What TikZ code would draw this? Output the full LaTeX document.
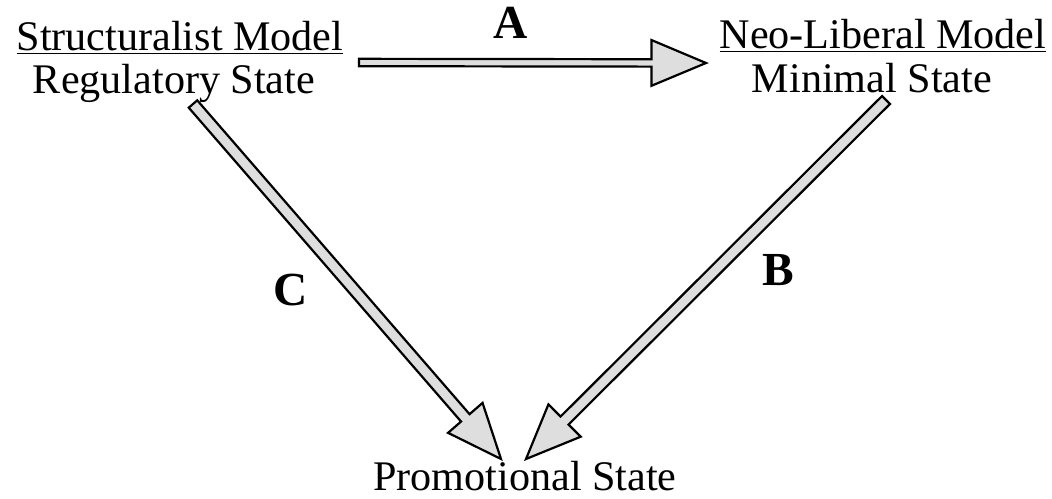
\documentclass[tikz,border=0pt]{standalone}
\usepackage{fontspec}
\setmainfont{Liberation Serif}
\usepackage{tikz}
\usetikzlibrary{calc}

\newcommand{\hollowarrow}[3]{%
  \coordinate (hb) at ($(#3)!31pt!(#2)$);
  \draw[blk] ($(#2)!#1!90:(#3)$) -- ($(hb)!#1!90:(#3)$) -- ($(hb)!13pt!90:(#3)$) -- (#3)
    -- ($(hb)!13pt!-90:(#3)$) -- ($(hb)!#1!-90:(#3)$) -- ($(#2)!#1!-90:(#3)$) -- cycle;}

\begin{document}
\begin{tikzpicture}[
  x=0.02cm, y=-0.02cm,
  font=\fontsize{24}{28}\selectfont,
  txt/.style={inner sep=0pt, anchor=base},
  tag/.style={inner sep=0pt, anchor=base, font=\fontsize{27}{32}\selectfont\bfseries},
  blk/.style={draw, line width=1.25pt, line join=miter, fill=black!13}
]
\useasboundingbox (0,0) rectangle (1052,498);
\node[txt] (sm) at (180,50) {\underline{Structuralist Model}};
\node[txt] (rs) at (174,93) {Regulatory State};
\node[txt] (nm) at (883,48) {\underline{Neo-Liberal Model}};
\node[txt] (ms) at (872,92) {Minimal State};
\node[txt] (ps) at (525,490) {Promotional State};
\node[tag] (la) at (511,38) {A};
\node[tag] (lb) at (778,285) {B};
\node[tag] (lc) at (291,305) {C};
\coordinate (a0) at (359,62.5);
\coordinate (a1) at (706,63);
\coordinate (c0) at (193,104);
\coordinate (c1) at (501,459);
\coordinate (b0) at (886,100);
\coordinate (b1) at (526,459);
\hollowarrow{2.1pt}{a0}{a1}
\hollowarrow{3.2pt}{c0}{c1}
\hollowarrow{3.2pt}{b0}{b1}
\end{tikzpicture}
\end{document}
